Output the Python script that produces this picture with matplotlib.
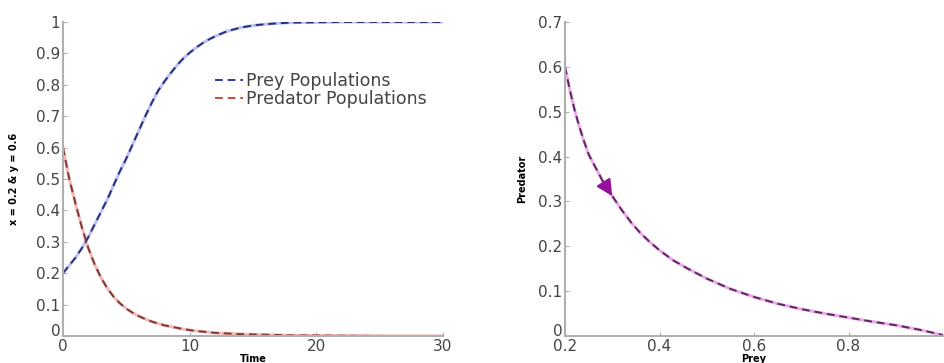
import matplotlib
matplotlib.use("Agg")
import matplotlib.pyplot as plt
from matplotlib.transforms import ScaledTranslation

plt.rcParams["font.family"] = ["DejaVu Sans"]

# time series
time = [0, 0.5, 1, 1.5, 2, 2.5, 3, 3.5, 4, 4.5, 5, 5.5, 6, 6.5, 7, 7.5, 8, 8.5, 9, 9.5,
        10, 10.5, 11, 11.5, 12, 12.5, 13, 14, 15, 16, 17, 18, 20, 22, 24, 26, 28, 30]
prey = [0.20, 0.225, 0.25, 0.28, 0.315, 0.355, 0.395, 0.435, 0.48, 0.525, 0.565, 0.61,
        0.655, 0.70, 0.742, 0.78, 0.81, 0.837, 0.862, 0.884, 0.902, 0.918, 0.932, 0.944,
        0.954, 0.963, 0.971, 0.982, 0.989, 0.993, 0.996, 0.998, 0.999, 1.0, 1.0, 1.0, 1.0, 1.0]
predator = [0.60, 0.50, 0.42, 0.345, 0.28, 0.228, 0.186, 0.152, 0.125, 0.104, 0.087, 0.074,
            0.063, 0.054, 0.046, 0.040, 0.034, 0.030, 0.026, 0.022, 0.019, 0.016, 0.014, 0.012,
            0.010, 0.009, 0.008, 0.006, 0.005, 0.004, 0.003, 0.002, 0.0015, 0.001, 0.0005,
            0.0, 0.0, 0.0]

# phase trajectory
phase_prey = [0.20, 0.21, 0.22, 0.23, 0.24, 0.25, 0.265, 0.28, 0.30, 0.32, 0.34, 0.36, 0.38,
              0.40, 0.43, 0.46, 0.50, 0.55, 0.60, 0.65, 0.70, 0.75, 0.80, 0.85, 0.90, 0.95, 1.0]
phase_pred = [0.60, 0.55, 0.505, 0.468, 0.435, 0.405, 0.375, 0.345, 0.312, 0.281, 0.253,
              0.229, 0.209, 0.191, 0.168, 0.150, 0.128, 0.105, 0.087, 0.072, 0.060, 0.050,
              0.041, 0.032, 0.024, 0.014, 0.002]
arrow_idx = 8  # arrow head drawn at this point

left_yticks = [0, 0.1, 0.2, 0.3, 0.4, 0.5, 0.6, 0.7, 0.8, 0.9, 1]
left_yticklabels = ["0", "0.1", "0.2", "0.3", "0.4", "0.5", "0.6", "0.7", "0.8", "0.9", "1"]
right_yticks = [0, 0.1, 0.2, 0.3, 0.4, 0.5, 0.6, 0.7]
right_yticklabels = ["0", "0.1", "0.2", "0.3", "0.4", "0.5", "0.6", "0.7"]
right_xticks = [0.2, 0.4, 0.6, 0.8]

AXIS_GRAY = "#b0b0b0"
TEXT = "#444444"


def style_axes(ax):
    for side in ("top", "right"):
        ax.spines[side].set_visible(False)
    for side in ("left", "bottom"):
        ax.spines[side].set_color(AXIS_GRAY)
        ax.spines[side].set_linewidth(1.5)
    ax.tick_params(direction="in", length=3, color=AXIS_GRAY, labelsize=11, labelcolor=TEXT, pad=2)


fig = plt.figure(figsize=(9.44, 3.63), dpi=100)
ax1 = fig.add_axes([0.0667, 0.0744, 0.4025, 0.865])
ax2 = fig.add_axes([0.5985, 0.0744, 0.4005, 0.865])

# left: populations over time (light solid underneath, dark dashes on top)
ax1.plot(time, prey, color="#8f9be8", lw=2.2, alpha=0.6)
ax1.plot(time, predator, color="#f08a8a", lw=2.2, alpha=0.6)
ax1.plot(time, prey, color="#2a2f7a", lw=1.4, ls=(0, (4, 2.5)), label="Prey Populations")
ax1.plot(time, predator, color="#7a3a32", lw=1.4, ls=(0, (4, 2.5)), label="Predator Populations")
ax1.set_xlim(0, 30)
ax1.set_ylim(0, 1)
ax1.set_xticks([0, 10, 20, 30])
ax1.set_yticks(left_yticks)
ax1.set_yticklabels(left_yticklabels)
style_axes(ax1)
ax1.set_xlabel("Time", fontsize=7, fontweight="bold", labelpad=0)
ax1.set_ylabel("x = 0.2 & y = 0.6", fontsize=7, fontweight="bold", labelpad=12)
leg = ax1.legend(loc="upper left", bbox_to_anchor=(0.36, 0.89), frameon=False, fontsize=12.5,
                 handlelength=1.6, handletextpad=0.15, labelspacing=0.0)
for t in leg.get_texts():
    t.set_color(TEXT)
leg.get_lines()[0].set_color("#2a3aa0")
leg.get_lines()[1].set_color("#c0503a")

# right: phase plane
ax2.plot(phase_prey, phase_pred, color="#e070e0", lw=2.2, alpha=0.6)
ax2.plot(phase_prey, phase_pred, color="#5a2a5a", lw=1.4, ls=(0, (4, 2.5)))
ax2.annotate("", xy=(phase_prey[arrow_idx], phase_pred[arrow_idx]),
             xytext=(phase_prey[arrow_idx - 1], phase_pred[arrow_idx - 1]),
             arrowprops=dict(arrowstyle="-|>,head_length=0.7,head_width=0.35", color="#94109a",
                             lw=1.5, mutation_scale=14, shrinkA=0, shrinkB=0))
ax2.set_xlim(0.2, 1.0)
ax2.set_ylim(0, 0.7)
ax2.set_xticks(right_xticks)
ax2.set_yticks(right_yticks)
ax2.set_yticklabels(right_yticklabels)
style_axes(ax2)
ax2.set_xlabel("Prey", fontsize=7, fontweight="bold", labelpad=0)
ax2.set_ylabel("Predator", fontsize=7, fontweight="bold", labelpad=8)

# nudge the "0" y label up so it sits above the first x label, as in the reference
for ax in (ax1, ax2):
    lab = ax.get_yticklabels()[0]
    lab.set_transform(lab.get_transform() + ScaledTranslation(0, 4 / 72, fig.dpi_scale_trans))

fig.savefig("out.png", dpi=100)
